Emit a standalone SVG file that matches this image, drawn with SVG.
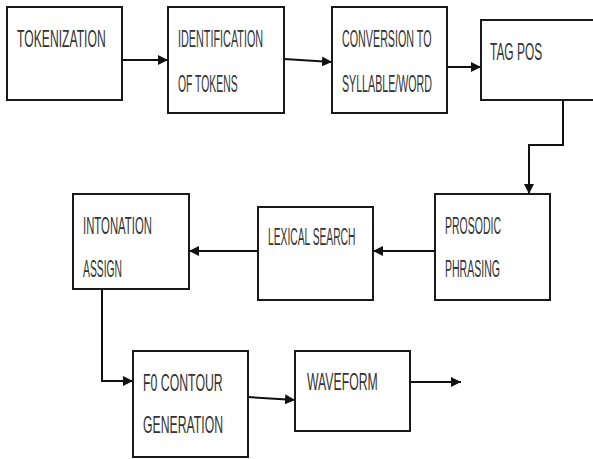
<svg xmlns="http://www.w3.org/2000/svg" width="593" height="459" viewBox="0 0 593 459">
<style>
.box{fill:#fff;stroke:#1a1a1a;stroke-width:2}
.lbl{font-family:"Liberation Sans",Arial,sans-serif;font-size:24px;fill:#333}
.con{fill:none;stroke:#111;stroke-width:2}
</style>
<defs>
<marker id="ah" viewBox="0 0 10 10" refX="10" refY="5" markerWidth="5" markerHeight="5" markerUnits="strokeWidth" orient="auto">
<path d="M0,0 L10,5 L0,10 Z" fill="#111"/>
</marker>
</defs>
<rect width="593" height="459" fill="#fff"/>
<g id="connectors">
<line class="con" x1="122" y1="60" x2="168" y2="60" marker-end="url(#ah)"/>
<line class="con" x1="284" y1="59" x2="332" y2="62" marker-end="url(#ah)"/>
<line class="con" x1="447" y1="67" x2="481" y2="67" marker-end="url(#ah)"/>
<polyline class="con" points="563,100 563,145 529,145 529,194" marker-end="url(#ah)"/>
<line class="con" x1="435" y1="251" x2="373" y2="251" marker-end="url(#ah)"/>
<line class="con" x1="258" y1="251" x2="189" y2="251" marker-end="url(#ah)"/>
<polyline class="con" points="102,289 102,381 133,381" marker-end="url(#ah)"/>
<line class="con" x1="248" y1="397" x2="295" y2="400" marker-end="url(#ah)"/>
<line class="con" x1="410" y1="382" x2="461" y2="382" marker-end="url(#ah)"/>
</g>
<g id="tokenization">
<rect class="box" x="7" y="7" width="115" height="93"/>
<text class="lbl" transform="translate(17,47) scale(0.507,1)">TOKENIZATION</text>
</g>
<g id="identification">
<rect class="box" x="168" y="7" width="116" height="106"/>
<text class="lbl" transform="translate(178,47) scale(0.451,1)">IDENTIFICATION</text>
<text class="lbl" transform="translate(178,92) scale(0.433,1)">OF TOKENS</text>
</g>
<g id="conversion">
<rect class="box" x="332" y="7" width="115" height="106"/>
<text class="lbl" transform="translate(342,47) scale(0.447,1)">CONVERSION TO</text>
<text class="lbl" transform="translate(342,92) scale(0.444,1)">SYLLABLE/WORD</text>
</g>
<g id="tagpos">
<rect class="box" x="481" y="20" width="120" height="80"/>
<text class="lbl" transform="translate(490,60) scale(0.497,1)">TAG POS</text>
</g>
<g id="prosodic">
<rect class="box" x="435" y="194" width="115" height="106"/>
<text class="lbl" transform="translate(445,234) scale(0.4375,1)">PROSODIC</text>
<text class="lbl" transform="translate(445,277) scale(0.439,1)">PHRASING</text>
</g>
<g id="lexical">
<rect class="box" x="258" y="207" width="115" height="93"/>
<text class="lbl" transform="translate(268,245) scale(0.428,1)">LEXICAL SEARCH</text>
</g>
<g id="intonation">
<rect class="box" x="73" y="194" width="116" height="95"/>
<text class="lbl" transform="translate(83,234) scale(0.473,1)">INTONATION</text>
<text class="lbl" transform="translate(83,277) scale(0.43,1)">ASSIGN</text>
</g>
<g id="f0contour">
<rect class="box" x="133" y="351" width="115" height="106"/>
<text class="lbl" transform="translate(143,391) scale(0.513,1)">F0 CONTOUR</text>
<text class="lbl" transform="translate(143,433) scale(0.51,1)">GENERATION</text>
</g>
<g id="waveform">
<rect class="box" x="295" y="351" width="115" height="80"/>
<text class="lbl" transform="translate(307,390) scale(0.51,1)">WAVEFORM</text>
</g>
</svg>
